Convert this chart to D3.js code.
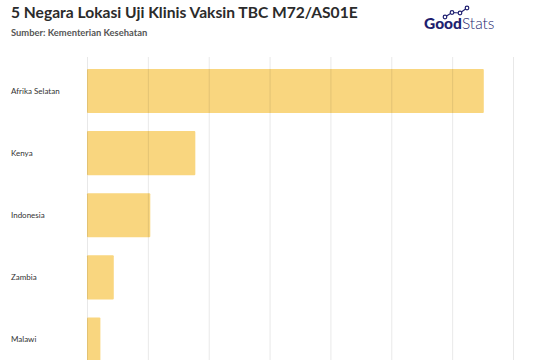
<!DOCTYPE html>
<html>
<head>
<meta charset="utf-8">
<script src="https://cdn.jsdelivr.net/npm/d3@7"></script>
<style>
  body { margin: 0; background: #fff; }
  svg { display: block; overflow: hidden; }
</style>
</head>
<body>
<div id="chart"></div>
<script>
// data
const countries = ["Afrika Selatan", "Kenya", "Indonesia", "Zambia", "Malawi"];
const values = [32.6, 8.9, 5.2, 2.2, 1.1];
const gridTicks = [0, 5, 10, 15, 20, 25, 30, 35];

const width = 537, height = 360;

const svg = d3.select("#chart")
  .append("svg")
    .attr("width", width)
    .attr("height", height);

// title + source
svg.append("text")
    .attr("x", 11).attr("y", 18)
    .attr("font-family", "Lato, sans-serif")
    .attr("font-weight", 700)
    .attr("font-size", 15.6)
    .attr("fill", "#2b2b2b")
    .text("5 Negara Lokasi Uji Klinis Vaksin TBC M72/AS01E");

svg.append("text")
    .attr("x", 11).attr("y", 36)
    .attr("font-family", "Lato, sans-serif")
    .attr("font-weight", 700)
    .attr("font-size", 9.4)
    .attr("fill", "#555")
    .text("Sumber: Kementerian Kesehatan");

// GoodStats logo
const logo = svg.append("g");
const logoText = logo.append("text")
    .attr("x", 424).attr("y", 29)
    .attr("font-family", "Lato, sans-serif")
    .attr("font-size", 15.5)
    .attr("fill", "#1f1f70");
logoText.append("tspan").attr("font-weight", 900).text("Good");
logoText.append("tspan").attr("font-weight", 300).text("Stats");
const dots = [[445, 17], [452, 12.5], [460, 13], [467, 8]];
logo.append("path")
    .attr("d", d3.line()(dots))
    .attr("fill", "none")
    .attr("stroke", "#1f1f70")
    .attr("stroke-width", 1.2);
logo.selectAll("circle")
  .data(dots)
  .join("circle")
    .attr("cx", d => d[0]).attr("cy", d => d[1])
    .attr("r", 1.8)
    .attr("fill", "#fff")
    .attr("stroke", "#1f1f70")
    .attr("stroke-width", 1.2);

// scales
const x = d3.scaleLinear()
  .domain([0, 35])
  .range([87, 513]);

const y = d3.scaleBand()
  .domain(countries)
  .range([60, 60 + 62.1 * countries.length])
  .paddingInner(0.29)
  .paddingOuter(0.145);

// bars
svg.selectAll(".bar")
  .data(countries)
  .join("rect")
    .attr("class", "bar")
    .attr("x", x(0))
    .attr("y", d => y(d))
    .attr("width", (d, i) => x(values[i]) - x(0))
    .attr("height", y.bandwidth())
    .attr("rx", 1)
    .attr("fill", "#f9d67f");

// vertical gridlines (drawn over the bars, faintly)
svg.append("g")
    .attr("transform", `translate(0, ${height})`)
    .call(d3.axisBottom(x).tickValues(gridTicks).tickSize(-(height - 57)).tickFormat(""))
    .call(g => g.select(".domain").remove())
    .call(g => g.selectAll(".tick line")
      .attr("stroke", "#000")
      .attr("stroke-opacity", 0.09));

// category labels
svg.append("g")
  .selectAll("text")
  .data(countries)
  .join("text")
    .attr("x", 11)
    .attr("y", d => y(d) + y.bandwidth() / 2)
    .attr("dy", "0.35em")
    .attr("font-family", "Lato, sans-serif")
    .attr("font-size", 8)
    .attr("fill", "#333")
    .text(d => d);
</script>
</body>
</html>
